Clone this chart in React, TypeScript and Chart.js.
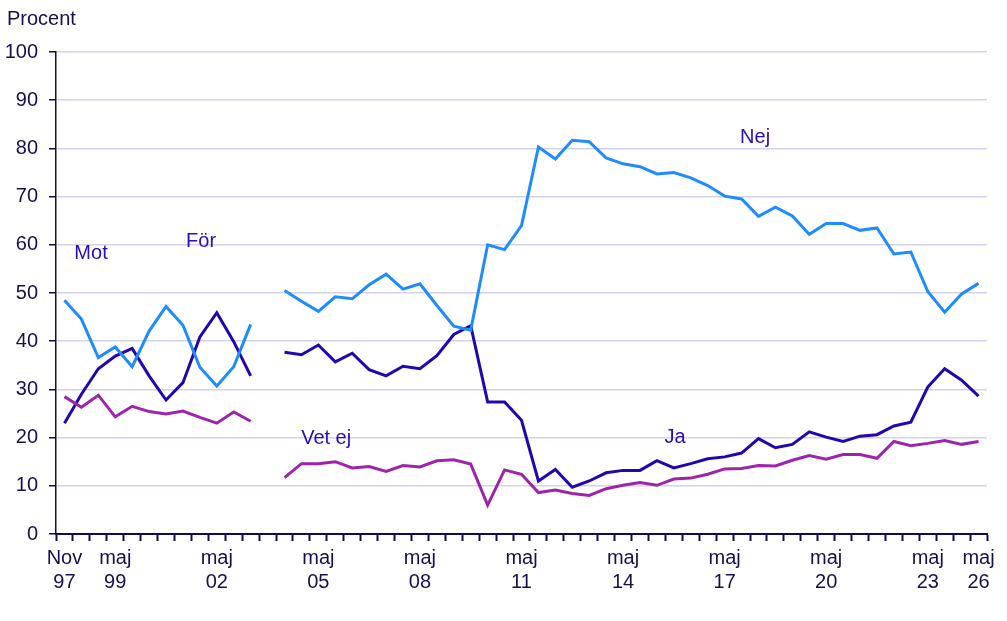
import { useEffect, useRef } from "react";
import { Chart, registerables } from "chart.js";

Chart.register(...registerables);

// Half-yearly surveys; only some periods carry a visible axis label.
const tickLabels: (string | string[])[] = [
  ["Nov", "97"], "", "", ["maj", "99"], "", "", "", "", "", ["maj", "02"],
  "", "", "", "", "", ["maj", "05"], "", "", "", "", "",
  ["maj", "08"], "", "", "", "", "", ["maj", "11"], "", "", "", "", "",
  ["maj", "14"], "", "", "", "", "", ["maj", "17"], "", "", "", "", "",
  ["maj", "20"], "", "", "", "", "", ["maj", "23"], "", "", ["maj", "26"],
];

// Early question wording: För / Mot (first 12 periods)
const forValues = [23.0, 29.0, 34.3, 36.9, 38.5, 32.8, 27.8, 31.4, 40.9, 45.9, 39.9, 32.8];
const motValues = [48.5, 44.6, 36.6, 38.8, 34.7, 42.1, 47.2, 43.3, 34.6, 30.7, 34.7, 43.5];
const vetEjEarly = [28.5, 26.3, 28.8, 24.3, 26.5, 25.4, 24.9, 25.5, 24.2, 23.0, 25.3, 23.4];

// Later question wording: Ja / Nej (from period 14 onward)
const jaValues = [
  37.7, 37.2, 39.2, 35.7, 37.5, 34.1, 32.8, 34.8, 34.3, 37.0, 41.4, 43.2,
  27.4, 27.4, 23.6, 11.0, 13.4, 9.7, 11.0, 12.7, 13.2, 13.2, 15.2, 13.7,
  14.6, 15.6, 16.0, 16.8, 19.8, 17.9, 18.6, 21.2, 20.1, 19.2, 20.3, 20.6,
  22.4, 23.2, 30.5, 34.3, 31.9, 28.6,
];
const nejValues = [
  50.5, 48.3, 46.2, 49.2, 48.8, 51.7, 53.9, 50.8, 51.9, 47.4, 43.1, 42.3,
  60.0, 59.0, 64.0, 80.3, 77.8, 81.7, 81.4, 78.0, 76.8, 76.2, 74.7, 75.0,
  73.9, 72.3, 70.1, 69.5, 65.9, 67.8, 66.0, 62.2, 64.4, 64.4, 63.0, 63.5,
  58.1, 58.5, 50.3, 46.0, 49.8, 52.0,
];
const vetEjLate = [
  11.7, 14.6, 14.6, 15.0, 13.7, 14.0, 13.0, 14.2, 13.9, 15.2, 15.4, 14.5,
  6.0, 13.3, 12.4, 8.6, 9.1, 8.4, 8.0, 9.4, 10.1, 10.7, 10.1, 11.4,
  11.6, 12.4, 13.5, 13.6, 14.2, 14.1, 15.3, 16.3, 15.5, 16.5, 16.5, 15.7,
  19.2, 18.3, 18.8, 19.4, 18.6, 19.2,
];

const yTicks = [0, 10, 20, 30, 40, 50, 60, 70, 80, 90, 100];

const total = tickLabels.length;
const lateStart = total - jaValues.length;
const blanks = (n: number) => Array(n).fill(null);

const forSeries = [...forValues, ...blanks(total - forValues.length)];
const motSeries = [...motValues, ...blanks(total - motValues.length)];
const jaSeries = [...blanks(lateStart), ...jaValues];
const nejSeries = [...blanks(lateStart), ...nejValues];
const vetEjSeries = [...vetEjEarly, ...blanks(lateStart - vetEjEarly.length), ...vetEjLate];

const FONT = "'Liberation Sans', Arial, sans-serif";
const TEXT = "#17104d";
const AXIS = "#110b4f";
const DARK_BLUE = "#2406b0";
const LIGHT_BLUE = "#1e8cff";
const PURPLE = "#9c25aa";
const LABEL_BLUE = "#2a0db8";

// In-chart series names, placed in axis units (category index, percent)
const seriesNames = [
  { text: "Mot", at: 1.57, value: 57.0 },
  { text: "För", at: 8.07, value: 59.6 },
  { text: "Vet ej", at: 15.46, value: 18.6 },
  { text: "Ja", at: 36.07, value: 18.8 },
  { text: "Nej", at: 40.8, value: 81.1 },
];

const textPlugin = {
  id: "seriesText",
  afterDatasetsDraw(chart: any) {
    const { ctx, scales } = chart;
    const x = scales.x;
    const y = scales.y;
    ctx.save();
    ctx.font = `20px ${FONT}`;
    ctx.fillStyle = LABEL_BLUE;
    ctx.textAlign = "center";
    ctx.textBaseline = "alphabetic";
    for (const n of seriesNames) {
      ctx.fillText(n.text, x.getPixelForValue(n.at), y.getPixelForValue(n.value));
    }
    ctx.fillStyle = TEXT;
    ctx.textAlign = "left";
    ctx.fillText("Procent", 7, 25);
    ctx.restore();
  },
};

export default function App() {
  const canvasRef = useRef<HTMLCanvasElement>(null);

  useEffect(() => {
    if (!canvasRef.current) return;
    const line = (label: string, data: (number | null)[], color: string) => ({
      label,
      data,
      borderColor: color,
      backgroundColor: color,
      borderWidth: 3,
      pointRadius: 0,
      tension: 0,
      spanGaps: false,
    });
    const chart = new Chart(canvasRef.current, {
      type: "line",
      data: {
        labels: tickLabels,
        datasets: [
          line("Vet ej", vetEjSeries, PURPLE),
          line("Mot", motSeries, LIGHT_BLUE),
          line("För", forSeries, DARK_BLUE),
          line("Nej", nejSeries, LIGHT_BLUE),
          line("Ja", jaSeries, DARK_BLUE),
        ],
      },
      options: {
        animation: false,
        responsive: true,
        maintainAspectRatio: false,
        layout: { padding: { top: 52, right: 20, left: 0, bottom: 0 } },
        plugins: {
          legend: { display: false },
          tooltip: { enabled: false },
          title: { display: false },
        },
        scales: {
          x: {
            type: "category",
            offset: true,
            grid: {
              offset: true,
              drawOnChartArea: false,
              tickLength: 7,
              tickColor: AXIS,
              tickWidth: 2,
            },
            border: { display: true, color: AXIS, width: 2 },
            ticks: {
              autoSkip: false,
              maxRotation: 0,
              minRotation: 0,
              padding: 5,
              color: TEXT,
              font: { family: FONT, size: 20, lineHeight: 1.2 },
            },
            afterFit: (s: any) => {
              s.height = 87;
            },
          },
          y: {
            min: 0,
            max: 100,
            afterBuildTicks: (s: any) => {
              s.ticks = yTicks.map((v) => ({ value: v }));
            },
            grid: {
              color: "#d2d2ee",
              lineWidth: 1.5,
              tickLength: 7,
              tickColor: AXIS,
              tickWidth: 1.5,
            },
            border: { display: true, color: AXIS, width: 1.5 },
            ticks: {
              padding: 11,
              color: TEXT,
              font: { family: FONT, size: 20 },
            },
            afterFit: (s: any) => {
              s.width = 56;
            },
          },
        },
      },
      plugins: [textPlugin],
    });
    return () => chart.destroy();
  }, []);

  return (
    <div style={{ position: "fixed", left: 0, top: 0, width: 1007, height: 621, background: "#fff" }}>
      <canvas ref={canvasRef} />
    </div>
  );
}
